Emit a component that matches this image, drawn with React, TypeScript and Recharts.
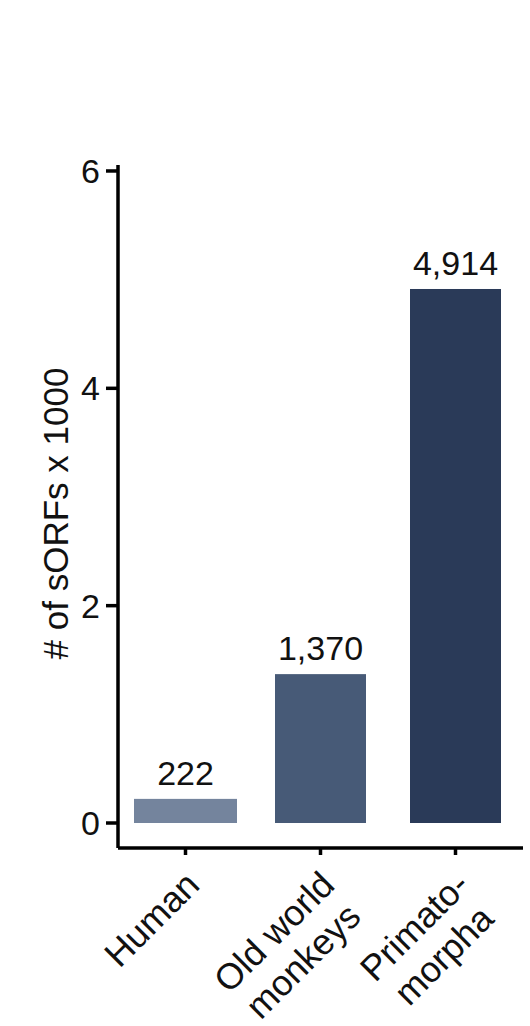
import React from 'react';
import { BarChart, Bar, XAxis, YAxis, LabelList, Cell } from 'recharts';

// ---- data ----
const categories = ['Human', 'Old world\nmonkeys', 'Primato-\nmorpha'];
const sorfCounts = [222, 1370, 4914];
const yTicks = [0, 2, 4, 6];

// ---- styles ----
const barColors = ['#74849d', '#475a77', '#2a3a58'];
const barWidths = [103, 91, 91];
const FONT = '"Liberation Sans", Arial, Helvetica, sans-serif';
const FS = 34;
const XFS = 36;
const TEXT = '#111111';

const table = categories.map((c, i) => ({ name: c, count: sorfCounts[i], value: sorfCounts[i] / 1000 }));

let ctx: CanvasRenderingContext2D | null = null;
const measure = (s: string) => {
  if (!ctx) {
    ctx = document.createElement('canvas').getContext('2d');
  }
  if (!ctx) return s.length * XFS * 0.55;
  ctx.font = `${XFS}px "Liberation Sans"`;
  return ctx.measureText(s).width;
};

const XTick = (props: any) => {
  const { x, y, payload } = props;
  const lines = String(payload.value).split('\n');
  const W = Math.max(...lines.map(measure));
  const ax = x + 16;
  const ay = y + 32;
  return (
    <g transform={`translate(${ax},${ay}) rotate(-45)`}>
      {lines.map((l: string, i: number) => (
        <text key={i} x={-W / 2} y={i * 41} textAnchor="middle" fontSize={XFS} fontFamily={FONT} fill={TEXT}>
          {l}
        </text>
      ))}
    </g>
  );
};

const BarShape = (props: any) => {
  const { x, y, width, height, index, fill } = props;
  const w = barWidths[index] ?? width;
  const cx = x + width / 2;
  return <rect x={cx - w / 2} y={y} width={w} height={height} fill={fill} />;
};

const YLabel = (props: any) => {
  const vb = props.viewBox || { x: 0, y: 0, width: 0, height: 0 };
  const bx = vb.x + 68;
  const cy = vb.y + vb.height / 2 + 7;
  return (
    <text x={bx} y={cy} transform={`rotate(-90 ${bx} ${cy})`} textAnchor="middle" fontSize={35} fontFamily={FONT} fill={TEXT}>
      # of sORFs x 1000
    </text>
  );
};

export default function App() {
  return (
    <div style={{ position: 'absolute', left: 0, top: 0, width: 530, height: 1026, background: '#fff' }}>
      <BarChart
        width={530}
        height={1026}
        data={table}
        margin={{ top: 165, right: 7, bottom: 0, left: 0 }}
        barCategoryGap={0}
      >
        <XAxis
          dataKey="name"
          height={178}
          interval={0}
          tick={<XTick />}
          tickSize={7}
          tickMargin={0}
          axisLine={{ stroke: '#000', strokeWidth: 3.5 }}
          tickLine={{ stroke: '#000', strokeWidth: 3.5 }}
        />
        <YAxis
          type="number"
          width={118}
          domain={[-0.23, 6.055]}
          allowDataOverflow
          ticks={yTicks}
          tickSize={12}
          tickMargin={6}
          tick={{ fontSize: FS, fontFamily: FONT, fill: TEXT }}
          axisLine={{ stroke: '#000', strokeWidth: 3.5 }}
          tickLine={{ stroke: '#000', strokeWidth: 3.5 }}
          label={<YLabel />}
        />
        <Bar dataKey="value" barSize={91} isAnimationActive={false} shape={<BarShape />}>
          {table.map((d, i) => (
            <Cell key={i} fill={barColors[i]} />
          ))}
          <LabelList
            dataKey="count"
            position="top"
            offset={14}
            fontSize={FS}
            fontFamily={FONT}
            fill={TEXT}
            formatter={(v: any) => Number(v).toLocaleString('en-US')}
          />
        </Bar>
      </BarChart>
    </div>
  );
}
